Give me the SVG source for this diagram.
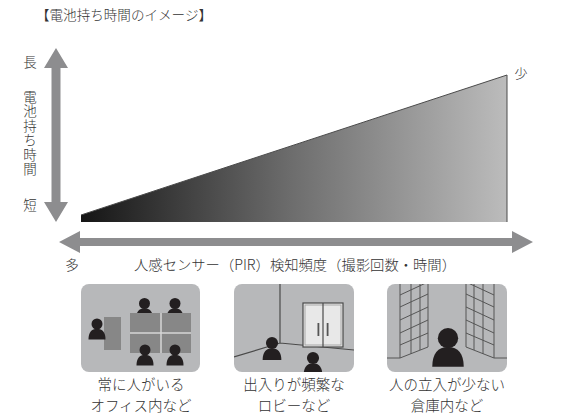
<svg xmlns="http://www.w3.org/2000/svg" xmlns:xlink="http://www.w3.org/1999/xlink" width="577" height="416" viewBox="0 0 577 416">
  <style>
    .t { font-family: "Noto Sans CJK JP", "Noto Sans", sans-serif; fill: #333333; font-weight: 300; }
    .cap { font-size: 14.5px; text-anchor: middle; }
    .arrow { fill: #8d8d8f; }
    .room { fill: #b7b8ba; }
    .table { fill: #878787; }
    .ink { fill: #231f20; }
    .wall { fill: none; stroke: #4a4a4a; stroke-width: 1.2; }
    .shelf { fill: none; stroke: #555555; stroke-width: 1; }
  </style>
  <defs>
    <linearGradient id="fade" x1="81" y1="0" x2="507" y2="0" gradientUnits="userSpaceOnUse">
      <stop offset="0" stop-color="#151515"/>
      <stop offset="0.5" stop-color="#6e6e6e"/>
      <stop offset="1" stop-color="#bcbcbc"/>
    </linearGradient>
    <!-- generic person silhouette, 21px tall, origin at top centre -->
    <g id="person">
      <circle cx="0" cy="5.5" r="5.5"/>
      <path d="M -8.5 21 C -8.5 14 -5.5 10.3 0 10.3 C 5.5 10.3 8.5 14 8.5 21 Z"/>
    </g>
    <clipPath id="clip-lobby"><rect x="234" y="284" width="120" height="88" rx="8"/></clipPath>
    <clipPath id="clip-store"><rect x="387" y="284" width="120" height="88" rx="8"/></clipPath>
  </defs>

  <!-- heading -->
  <text class="t" x="36" y="20" font-size="13.5" textLength="176" lengthAdjust="spacingAndGlyphs">【電池持ち時間のイメージ】</text>

  <!-- vertical axis labels -->
  <g id="axis-y-labels" class="t" font-size="13.5" text-anchor="middle">
    <text x="30" y="67">長</text>
    <text x="30" y="90" text-anchor="start" writing-mode="vertical-rl" letter-spacing="1">電池持ち時間</text>
    <text x="30" y="210">短</text>
  </g>

  <g id="connectors">
    <!-- battery life axis -->
    <polygon class="arrow" points="56,48 68,68 60.5,68 60.5,202 68,202 56,222 44,202 51.5,202 51.5,68 44,68"/>
    <!-- detection frequency axis -->
    <polygon class="arrow" points="59,242 80,231 80,238 512,238 512,231 533,242 512,253 512,246 80,246 80,253"/>
  </g>

  <!-- battery life wedge -->
  <g id="wedge">
    <polygon points="81,215 507,75 507,222 81,222" fill="url(#fade)"/>
    <polyline points="81,215 507,75 507,222" fill="none" stroke="#4a4a4a" stroke-width="1"/>
  </g>
  <text class="t" x="521" y="78" font-size="13" text-anchor="middle">少</text>

  <!-- horizontal axis labels -->
  <text class="t" x="72" y="270" font-size="13.5" text-anchor="middle">多</text>
  <text class="t" x="134" y="270" font-size="14" textLength="322" lengthAdjust="spacingAndGlyphs">人感センサー（PIR）検知頻度（撮影回数・時間）</text>

  <!-- office -->
  <g id="office">
    <rect class="room" x="81" y="284" width="119" height="88" rx="8"/>
    <g class="ink">
      <use href="#person" transform="translate(144.5,298)"/>
      <use href="#person" transform="translate(175,298)"/>
    </g>
    <rect class="table" x="104" y="317" width="17" height="33"/>
    <rect class="table" x="130" y="313" width="61" height="40"/>
    <path d="M161 313 V353 M130 333 H191" stroke="#d6d6d6" stroke-width="1.5"/>
    <g class="ink">
      <use href="#person" transform="translate(97,318.5)"/>
      <use href="#person" transform="translate(145,344.5)"/>
      <use href="#person" transform="translate(175,344.5)"/>
    </g>
    <text class="t cap" y="390"><tspan x="141">常に人がいる</tspan><tspan x="141" dy="21">オフィス内など</tspan></text>
  </g>

  <!-- lobby -->
  <g id="lobby">
    <rect class="room" x="234" y="284" width="120" height="88" rx="8"/>
    <g clip-path="url(#clip-lobby)">
      <path class="wall" d="M280 284 V343 M234 357 L280 343 L354 350"/>
      <rect x="303" y="303" width="40" height="44" fill="#e8e8e8" stroke="#4a4a4a" stroke-width="1.2"/>
      <rect x="305" y="305" width="36" height="40" fill="none" stroke="#9a9a9a" stroke-width="0.8"/>
      <line x1="323" y1="303" x2="323" y2="347" stroke="#4a4a4a" stroke-width="1.2"/>
      <rect x="317.5" y="323" width="1.8" height="13" fill="#555"/>
      <rect x="326.7" y="323" width="1.8" height="13" fill="#555"/>
      <g class="ink">
        <use href="#person" transform="translate(272,337) scale(1.1)"/>
        <use href="#person" transform="translate(313,352) scale(1.1)"/>
      </g>
    </g>
    <text class="t cap" y="390"><tspan x="294">出入りが頻繁な</tspan><tspan x="294" dy="21">ロビーなど</tspan></text>
  </g>

  <!-- warehouse -->
  <g id="warehouse">
    <rect class="room" x="387" y="284" width="120" height="88" rx="8"/>
    <g clip-path="url(#clip-store)">
      <!-- left rack -->
      <g class="shelf">
        <path d="M400 280 V358 M411 280 V354 M420 280 V350 M428 280 V347"/>
        <path d="M400 358 L428 347 M400 345 L428 333 M400 333 L428 320 M400 320 L428 307 M400 307 L428 294 M400 295 L428 282 M400 283 L428 270"/>
        <path d="M387 358 H400"/>
      </g>
      <!-- right rack -->
      <g class="shelf">
        <path d="M494 280 V358 M483 280 V354 M474 280 V350 M466 280 V347"/>
        <path d="M494 358 L466 347 M494 345 L466 333 M494 333 L466 320 M494 320 L466 307 M494 307 L466 294 M494 295 L466 282 M494 283 L466 270"/>
        <path d="M494 358 H507"/>
      </g>
      <use class="ink" href="#person" transform="translate(448,328) scale(1.85)"/>
    </g>
    <text class="t cap" y="390"><tspan x="447">人の立入が少ない</tspan><tspan x="447" dy="21">倉庫内など</tspan></text>
  </g>
</svg>
